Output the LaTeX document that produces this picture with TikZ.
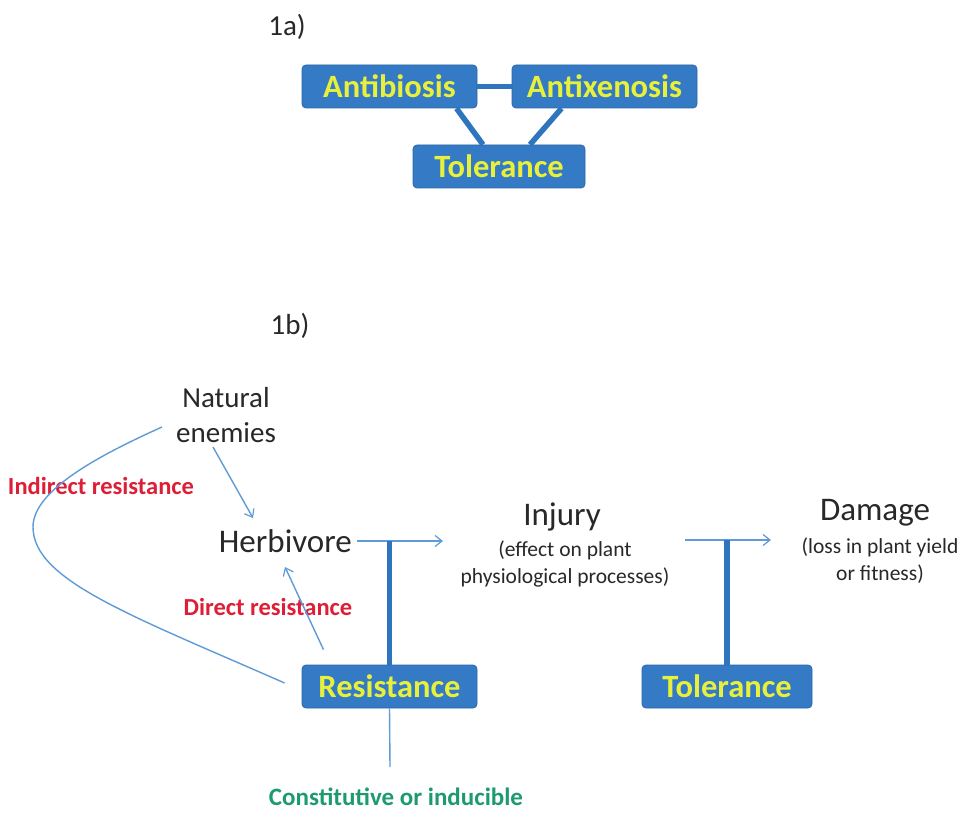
\documentclass[tikz,border=0pt]{standalone}
\usepackage{fontspec}
\setmainfont{Carlito}
\usetikzlibrary{arrows.meta}
\definecolor{boxblue}{RGB}{52,122,196}
\definecolor{linkblue}{RGB}{46,117,190}
\definecolor{thinblue}{RGB}{95,155,215}
\definecolor{boxyellow}{RGB}{232,240,60}
\definecolor{redtxt}{RGB}{222,30,55}
\definecolor{greentxt}{RGB}{30,155,110}
\definecolor{darktxt}{RGB}{40,40,40}
\tikzset{
  bluebox/.style={fill=boxblue, draw=boxblue!85!black, line width=0.8pt, rounded corners=4pt,
    text=boxyellow, font=\fontsize{32.5}{34}\selectfont\bfseries, minimum height=43pt, inner sep=0pt},
  thickline/.style={draw=linkblue, line width=5.5pt},
  thinarrow/.style={draw=thinblue, line width=1.4pt, -{Straight Barb[length=7pt,width=11pt,line width=1.2pt]}},
  thinline/.style={draw=thinblue, line width=1.4pt},
  bigtxt/.style={text=darktxt, font=\fontsize{33}{36}\selectfont, inner sep=0pt},
  midtxt/.style={text=darktxt, font=\fontsize{29}{35}\selectfont, align=center, inner sep=0pt},
  subtxt/.style={text=darktxt, font=\fontsize{21.5}{27}\selectfont, align=center, inner sep=0pt},
  redlabel/.style={text=redtxt, font=\fontsize{24.5}{26}\selectfont\bfseries, inner sep=0pt},
  greenlabel/.style={text=greentxt, font=\fontsize{25}{27}\selectfont\bfseries, inner sep=0pt},
  panellabel/.style={text=darktxt, font=\fontsize{29}{31}\selectfont, inner sep=0pt}
}
\begin{document}
\begin{tikzpicture}[x=1pt,y=-1pt]
\useasboundingbox (0,0) rectangle (970,813);
\fill[white] (0,0) rectangle (970,813);

% ---- 1a ----
\node[panellabel] (la) at (287,27) {1a)};
\node[bluebox, minimum width=175pt] (anti) at (389.5,86.5) {Antibiosis};
\node[bluebox, minimum width=185pt] (antix) at (604.5,86.5) {Antixenosis};
\node[bluebox, minimum width=172pt] (tolA) at (499,166.5) {Tolerance};
\draw[thickline] (anti.east) -- (antix.west);
\draw[thickline] ([xshift=67pt]anti.south) -- ([xshift=-16pt]tolA.north);
\draw[thickline] ([xshift=-43pt]antix.south) -- ([xshift=31pt]tolA.north);

% ---- 1b ----
\node[panellabel] (lb) at (290,326) {1b)};
\node[midtxt] (nat) at (226,415) {Natural\\enemies};
\node[bigtxt, anchor=east] (herb) at (352,541) {Herbivore};
\node[bigtxt] (inj) at (562,517) {Injury};
\node[subtxt] (injsub) at (565,564) {(effect on plant\\physiological processes)};
\node[bigtxt] (dam) at (875,513) {Damage};
\node[subtxt] (damsub) at (880,561) {(loss in plant yield\\or fitness)};
\node[bluebox, minimum width=175pt] (res) at (389.5,686.5) {Resistance};
\node[bluebox, minimum width=170pt] (tolB) at (727,686.5) {Tolerance};
\node[redlabel] (ind) at (101,486) {Indirect resistance};
\node[redlabel] (dir) at (268,607) {Direct resistance};
\node[greenlabel] (con) at (396,797) {Constitutive or inducible};

\coordinate (hEnd) at (443,541);
\coordinate (iStart) at (685,540);
\coordinate (iEnd) at (771,540);
\coordinate (cEnd) at (390,767);

% arrows
\draw[thinarrow] ([xshift=5pt]herb.east) -- (hEnd);
\draw[thinarrow] (iStart) -- (iEnd);
\draw[thickline] (res.north) -- (res.north |- herb.east);
\draw[thickline] (tolB.north) -- (tolB.north |- iStart);
\draw[thinarrow] (213,447) -- (253,518);
\draw[thinarrow] ([xshift=-66pt,yshift=15pt]res.north) -- (285,567);
\draw[thinline] ([xshift=-17pt,yshift=3.5pt]res.west) .. controls (130,615) and (33,580) .. (33,527)
   .. controls (33,490) and (100,455) .. (162,427);
\draw[thinline] (res.south) -- (cEnd);
\end{tikzpicture}
\end{document}
